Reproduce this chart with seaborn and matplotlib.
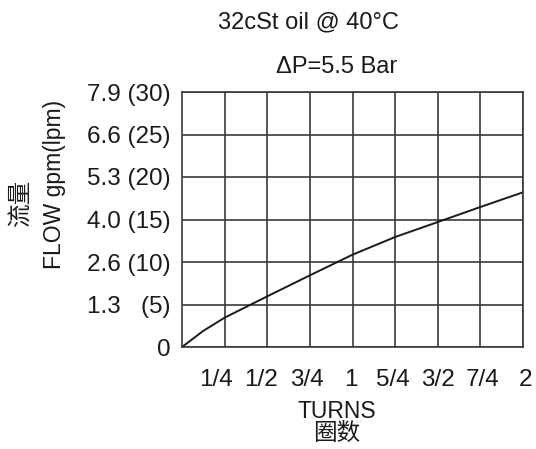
import matplotlib
matplotlib.use("Agg")
import matplotlib.pyplot as plt
import matplotlib.transforms as mtransforms
import seaborn as sns
import pandas as pd

turns = [0, 0.125, 0.25, 0.5, 0.75, 1.0, 1.25, 1.5, 1.75, 2.0]
flow_lpm = [0, 1.9, 3.45, 5.96, 8.43, 10.86, 12.94, 14.7, 16.47, 18.2]
x_ticks = [0.25, 0.5, 0.75, 1.0, 1.25, 1.5, 1.75, 2.0]
x_labels = ["1/4", "1/2", "3/4", "1", "5/4", "3/2", "7/4", "2"]
y_ticks = [0, 5, 10, 15, 20, 25, 30]
y_labels = ["0", "1.3   (5)", "2.6 (10)", "4.0 (15)", "5.3 (20)", "6.6 (25)", "7.9 (30)"]

# small horizontal nudges (pixels) of the x tick labels, as in the reference layout
label_dx = [-8.5, -6.5, -2.5, -1.5, -2.5, 0, 2, 2]

sns.set_style("white")
plt.rcParams['font.family'] = ['Liberation Sans', 'Noto Sans CJK SC', 'DejaVu Sans']

fig = plt.figure(figsize=(5.36, 4.49), dpi=100)
ax = fig.add_axes([182/536, 1-347/449, 341/536, 255/449])

df = pd.DataFrame({"turns": turns, "flow": flow_lpm})
sns.lineplot(data=df, x="turns", y="flow", ax=ax, color="#1a1a1a", linewidth=1.4)

ax.set_xlim(0, 2)
ax.set_ylim(0, 30)
ax.set_xticks(x_ticks)
ax.set_xticklabels(x_labels, fontsize=17.5, color="#1a1a1a")
ax.set_yticks(y_ticks)
ax.set_yticklabels(y_labels, fontsize=17.5, color="#1a1a1a")
ax.tick_params(axis='x', length=0, pad=16)
ax.tick_params(axis='y', length=0, pad=8)
for lbl, dx in zip(ax.get_xticklabels(), label_dx):
    lbl.set_transform(lbl.get_transform() + mtransforms.ScaledTranslation(dx/100, 0, fig.dpi_scale_trans))
ax.grid(True, color="#3a3a3a", linewidth=1.2)
for s in ax.spines.values():
    s.set_color("#3a3a3a")
    s.set_linewidth(1.2)
ax.set_xlabel("")
ax.set_ylabel("")

fig.text(308/536, 1-22/449, "32cSt oil @ 40°C", ha="center", va="center", fontsize=17, color="#1a1a1a")
fig.text(337/536, 1-67/449, "ΔP=5.5 Bar", ha="center", va="center", fontsize=17, color="#1a1a1a")
fig.text(337/536, 1-412/449, "TURNS", ha="center", va="center", fontsize=16.5, color="#1a1a1a")
fig.text(337/536, 1-434/449, "圈数", ha="center", va="center", fontsize=17, color="#1a1a1a")
fig.text(55/536, 1-184/449, "FLOW gpm(lpm)", ha="center", va="center", rotation=90, fontsize=16.5, color="#1a1a1a")
fig.text(22/536, 1-203/449, "流量", ha="center", va="center", rotation=90, fontsize=17, color="#1a1a1a")

fig.savefig("out.png", dpi=100)
